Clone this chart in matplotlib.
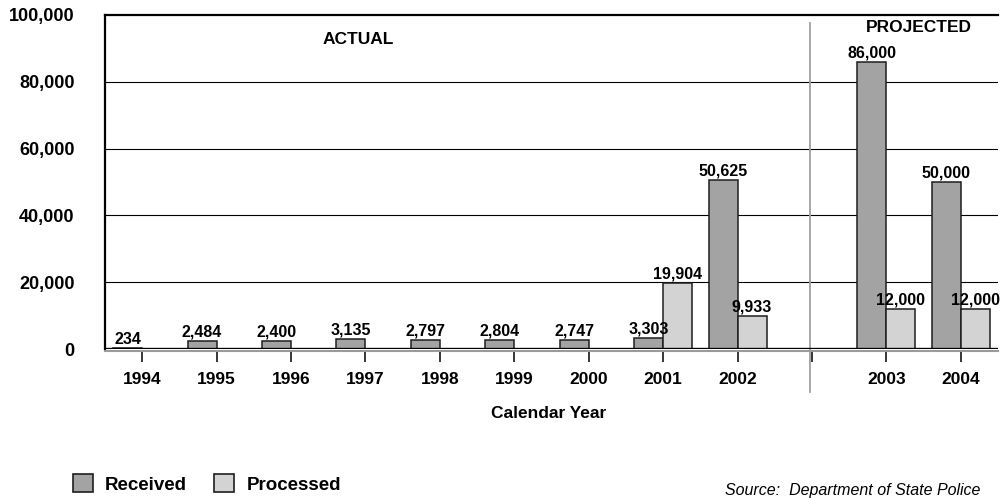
import matplotlib
matplotlib.use("Agg")
import matplotlib.pyplot as plt
from matplotlib.patches import Patch

plt.rcParams['font.family'] = ['Liberation Sans', 'DejaVu Sans']

# Data
years = ['1994', '1995', '1996', '1997', '1998', '1999', '2000', '2001', '2002', '2003', '2004']
slots = [0, 1, 2, 3, 4, 5, 6, 7, 8, 10, 11]
received = [234, 2484, 2400, 3135, 2797, 2804, 2747, 3303, 50625, 86000, 50000]
processed = [None, None, None, None, None, None, None, 19904, 9933, 12000, 12000]
y_ticks = [0, 20000, 40000, 60000, 80000, 100000]

RECEIVED_COLOR = '#a3a3a3'
PROCESSED_COLOR = '#d3d3d3'
EDGE = '#1e1e1e'

fig = plt.figure(figsize=(10.01, 4.98), dpi=100)
ax = fig.add_axes([105 / 1001, 1 - 349 / 498, 893 / 1001, 334 / 498])

bw = 0.39
for s, r, p in zip(slots, received, processed):
    ax.bar(s - bw / 2, r, width=bw, color=RECEIVED_COLOR, edgecolor=EDGE, linewidth=1.1, zorder=3)
    ax.annotate(f'{r:,}', (s - bw / 2, r), xytext=(0, 4), textcoords='offset pixels',
                ha='center', va='baseline', fontsize=11.5, fontweight='bold', zorder=5)
    if p is not None:
        ax.bar(s + bw / 2, p, width=bw, color=PROCESSED_COLOR, edgecolor=EDGE, linewidth=1.1, zorder=3)
        ax.annotate(f'{p:,}', (s + bw / 2, p), xytext=(0, 4), textcoords='offset pixels',
                    ha='center', va='baseline', fontsize=11.5, fontweight='bold', zorder=5)

ax.set_xlim(-0.5, 11.5)
ax.set_ylim(0, 100000)

# horizontal gridlines
for yv in y_ticks[1:-1]:
    ax.axhline(yv, color='black', lw=0.8, zorder=1)

# floor: black baseline with a grey shadow beneath
ax.axhline(0, color='black', lw=1.7, zorder=4)
ax.spines['bottom'].set_position(('outward', 1.5))
ax.spines['bottom'].set_color('#9a9a9a')
ax.spines['bottom'].set_linewidth(1.5)

ax.spines['right'].set_visible(False)
ax.spines['top'].set_linewidth(1.6)
ax.spines['left'].set_linewidth(1.6)

# divider between actual and projected years
ax.axvline(8.98, ymin=-0.129, ymax=0.976, color='#a0a0a0', lw=1.3, clip_on=False, zorder=2)

ax.set_xticks(list(range(12)))
ax.set_xticklabels(years[:9] + [''] + years[9:])
ax.tick_params(axis='x', length=8, width=1.1, color='black', pad=7, labelsize=12.5)
ax.set_yticks(y_ticks)
ax.set_yticklabels([f'{v:,}' for v in y_ticks])
ax.tick_params(axis='y', length=0, pad=22, labelsize=13)
for lab in ax.get_xticklabels() + ax.get_yticklabels():
    lab.set_fontweight('bold')

ax.text((358 - 105) / 893, (349 - 39) / 334, 'ACTUAL', transform=ax.transAxes,
        ha='center', va='center', fontsize=12.5, fontweight='bold')
ax.text((919 - 105) / 893, (349 - 27) / 334, 'PROJECTED', transform=ax.transAxes,
        ha='center', va='center', fontsize=12.5, fontweight='bold')

fig.text(549 / 1001, 1 - 413 / 498, 'Calendar Year', ha='center', va='center',
         fontsize=12.5, fontweight='bold')

handles = [Patch(facecolor=RECEIVED_COLOR, edgecolor=EDGE, linewidth=1.2),
           Patch(facecolor=PROCESSED_COLOR, edgecolor=EDGE, linewidth=1.2)]
fig.legend(handles, ['Received', 'Processed'], loc='center left',
           bbox_to_anchor=(73 / 1001, 1 - 484 / 498), ncol=2, frameon=False,
           borderpad=0, borderaxespad=0, handlelength=1.07, handleheight=1.07,
           handletextpad=0.64, columnspacing=1.45,
           prop={'size': 13.5, 'weight': 'bold'})

fig.text(725 / 1001, 1 - 483 / 498, 'Source:  Department of State Police', ha='left', va='top',
         fontsize=11.5, style='italic')

fig.savefig('out.png', dpi=100)
